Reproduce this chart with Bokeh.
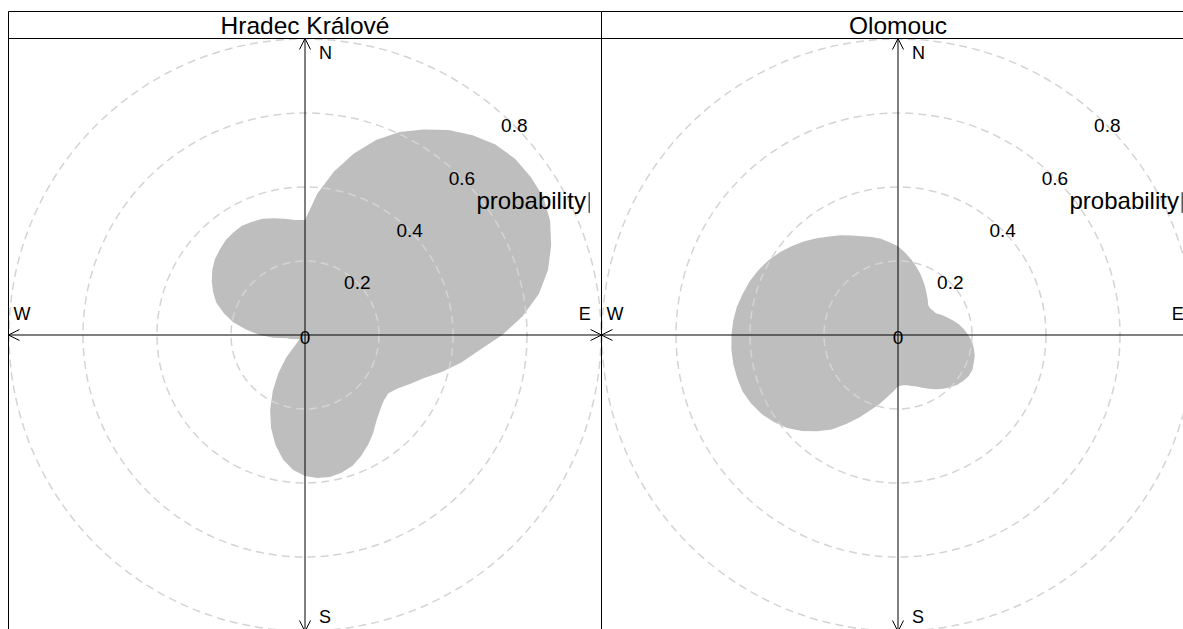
import numpy as np
from bokeh.plotting import figure
from bokeh.models import Arrow, OpenHead
from bokeh.core.properties import value
from bokeh.embed import file_html
from bokeh.resources import INLINE

# Wind bearing (degrees clockwise from north) and probability radius for each station
bearings = list(range(0, 360, 5))

hradec_prob = [
    0.311, 0.384, 0.448, 0.507, 0.561, 0.605, 0.641, 0.676, 0.705, 0.728,
    0.741, 0.745, 0.744, 0.731, 0.708, 0.680, 0.642, 0.591, 0.533, 0.473,
    0.429, 0.384, 0.341, 0.313, 0.289, 0.275, 0.277, 0.287, 0.301, 0.322,
    0.342, 0.360, 0.376, 0.385, 0.390, 0.388, 0.381, 0.366, 0.342, 0.308,
    0.268, 0.223, 0.174, 0.125, 0.079, 0.032, 0.022, 0.019, 0.022, 0.027,
    0.032, 0.041, 0.050, 0.086, 0.122, 0.159, 0.197, 0.227, 0.255, 0.274,
    0.291, 0.306, 0.318, 0.326, 0.334, 0.338, 0.341, 0.338, 0.334, 0.327,
    0.319, 0.312,
]

olomouc_prob = [
    0.240, 0.223, 0.207, 0.191, 0.176, 0.161, 0.148, 0.135, 0.125, 0.115,
    0.113, 0.115, 0.118, 0.129, 0.140, 0.153, 0.167, 0.179, 0.190, 0.201,
    0.208, 0.215, 0.218, 0.222, 0.221, 0.216, 0.209, 0.200, 0.190, 0.179,
    0.168, 0.157, 0.148, 0.143, 0.138, 0.136, 0.139, 0.154, 0.171, 0.193,
    0.216, 0.245, 0.277, 0.312, 0.340, 0.367, 0.391, 0.410, 0.426, 0.438,
    0.447, 0.450, 0.452, 0.452, 0.450, 0.447, 0.442, 0.434, 0.426, 0.416,
    0.404, 0.390, 0.374, 0.358, 0.341, 0.325, 0.311, 0.297, 0.284, 0.274,
    0.264, 0.251,
]

ring_levels = [0.2, 0.4, 0.6, 0.8]
ring_labels = ["0.2", "0.4", "0.6", "0.8"]
panel_titles = ["Hradec Králové", "Olomouc"]
key_label = "probability"

FONT = value("Liberation Sans")
PX = 370.0                 # screen pixels per probability unit
HALF = 296.5 / PX          # half width of one panel
STEP = 593.0 / PX          # distance between panel centres
W, H = 1183, 629
CX0, CY0 = 304.5, 334.5    # pixel position of the first panel's centre

p = figure(width=W, height=H, output_backend="svg", toolbar_location=None,
           x_range=(-CX0 / PX, (W - CX0) / PX),
           y_range=(-(H - CY0) / PX, CY0 / PX),
           x_axis_type=None, y_axis_type=None, min_border=0,
           outline_line_color=None, background_fill_color="white",
           border_fill_color="white")
p.grid.visible = False

strip_top = (CY0 - 11) / PX
for i, (title, prob) in enumerate(zip(panel_titles, [hradec_prob, olomouc_prob])):
    cx = i * STEP
    th = np.radians(bearings)
    r = np.array(prob)
    p.patch(cx + r * np.sin(th), r * np.cos(th), fill_color="#BEBEBE",
            line_color=None)

    # dashed probability rings
    p.circle(x=[cx] * len(ring_levels), y=[0] * len(ring_levels),
             radius=ring_levels, fill_color=None, line_color="#D4D4D4",
             line_width=1.5, line_dash="8 5")

    # compass axes with open arrow heads
    for ex, ey in [(HALF, 0), (-HALF, 0), (0, HALF), (0, -HALF)]:
        p.add_layout(Arrow(end=OpenHead(size=11, line_width=1, line_color="black"),
                           x_start=cx, y_start=0, x_end=cx + ex, y_end=ey,
                           line_width=1, line_color="black"))

    # ring value labels along the 45 degree diagonal
    d = np.array(ring_levels) * np.sqrt(0.5)
    p.text(x=list(cx + d), y=list(d), text=ring_labels, text_font=FONT,
           text_font_size="19px", text_align="center", text_baseline="middle",
           text_color="black")
    p.text(x=[cx], y=[-0.006], text=["0"], text_font=FONT, text_font_size="19px",
           text_align="center", text_baseline="middle", text_color="black")

    # compass letters
    p.text(x=[cx + 0.038, cx + 0.038], y=[0.763, -0.763], text=["N", "S"],
           text_font=FONT, text_font_size="18px", text_align="left",
           text_baseline="middle", text_color="black")
    p.text(x=[cx - 0.788], y=[0.058], text=["W"], text_font=FONT,
           text_font_size="18px", text_align="left", text_baseline="middle",
           text_color="black")
    p.text(x=[cx + 0.772], y=[0.058], text=["E"], text_font=FONT,
           text_font_size="18px", text_align="right", text_baseline="middle",
           text_color="black")

    # key label
    p.text(x=[cx + 0.4635], y=[0.3635], text=[key_label], text_font=FONT,
           text_font_size="24px", text_align="left", text_baseline="middle",
           text_color="black")
    p.segment(x0=[cx + 0.768], y0=[0.330], x1=[cx + 0.768], y1=[0.386],
              line_color="black", line_width=1)

    # strip with panel title, and the panel frame
    p.quad(left=cx - HALF, right=cx + HALF, bottom=HALF, top=strip_top,
           fill_color="white", line_color="black", line_width=1)
    p.quad(left=cx - HALF, right=cx + HALF, bottom=-HALF, top=HALF,
           fill_color=None, line_color="black", line_width=1)
    p.text(x=[cx], y=[(strip_top + HALF) / 2], text=[title], text_font=FONT,
           text_font_size="24.5px", text_align="center", text_baseline="middle",
           text_color="black")

open("out.html", "w").write(file_html(p, INLINE))
